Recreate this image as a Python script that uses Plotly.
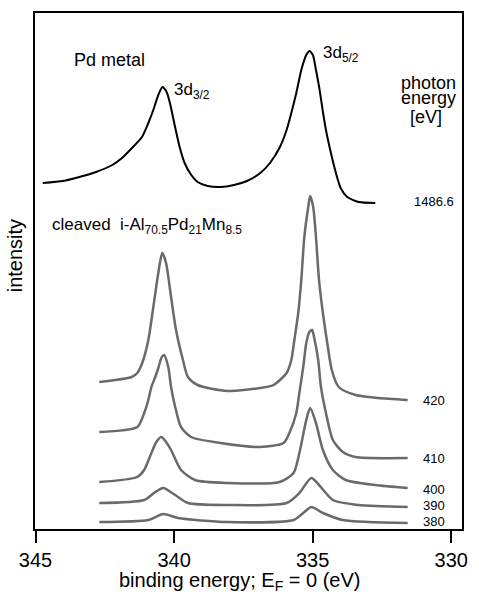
import plotly.graph_objects as go

# ---- data (binding energy in eV, intensity in arb. units) ----
pd_metal_E = [344.74, 344.01, 343.42, 342.82, 342.23, 341.88, 341.52, 341.16, 340.93, 340.75,
              340.57, 340.42, 340.27, 340.15, 339.98, 339.80, 339.62, 339.38, 339.15, 338.79,
              338.32, 337.84, 337.37, 336.89, 336.54, 336.18, 335.94, 335.77, 335.59, 335.41,
              335.23, 335.11, 334.99, 334.88, 334.76, 334.64, 334.52, 334.34, 334.16, 333.99,
              333.75, 333.34, 332.74]
pd_metal_I = [346, 348, 352, 357, 364, 371, 381, 392, 406, 419,
              434, 442, 437, 426, 404, 382, 366, 354, 347, 343,
              342, 344, 348, 356, 366, 382, 399, 416, 436, 459,
              474, 478, 474, 459, 441, 419, 399, 376, 356, 341,
              332, 327, 326]

s420_E = [342.70, 341.53, 341.33, 341.15, 340.93, 340.75, 340.57, 340.43, 340.29, 340.11,
          339.93, 339.68, 339.50, 339.15, 338.08, 336.90, 336.41, 335.94, 335.77, 335.66,
          335.52, 335.41, 335.30, 335.16, 335.09, 334.98, 334.88, 334.77, 334.63, 334.45,
          334.31, 334.06, 333.45, 332.63, 331.57]
s420_I = [147, 152, 156, 166, 189, 222, 256, 276, 266, 232,
          199, 169, 152, 144, 138, 141, 144, 156, 169, 189,
          216, 249, 292, 322, 333, 322, 292, 249, 216, 182,
          159, 142, 134, 131, 129]

s410_E = [342.70, 341.33, 341.08, 340.93, 340.82, 340.68, 340.57, 340.46, 340.36, 340.21,
          340.11, 339.96, 339.75, 339.39, 338.33, 336.90, 336.05, 335.84, 335.59, 335.48,
          335.34, 335.23, 335.12, 335.02, 334.95, 334.80, 334.70, 334.52, 334.27, 333.91,
          333.45, 331.57]
s410_I = [97, 102, 116, 129, 142, 152, 161, 171, 174, 162,
          142, 122, 102, 92, 86, 82, 86, 96, 116, 136,
          162, 186, 197, 199, 192, 169, 142, 116, 89, 77,
          72, 71]

s400_E = [342.70, 341.33, 341.08, 340.82, 340.64, 340.46, 340.29, 340.11, 339.75, 339.25,
          338.08, 336.19, 335.69, 335.48, 335.23, 335.09, 334.88, 334.63, 334.27, 333.81,
          332.75, 331.57]
s400_I = [47, 52, 59, 76, 87, 92, 87, 79, 59, 49,
          46, 47, 56, 76, 109, 121, 106, 79, 59, 49,
          44, 41]

s390_E = [342.70, 341.08, 340.68, 340.39, 339.96, 339.50, 338.08, 335.94, 335.48, 335.05,
          334.77, 334.27, 333.35, 331.57]
s390_I = [26, 29, 37, 41, 34, 26, 24, 26, 36, 51,
          44, 29, 24, 22]

s380_E = [342.70, 340.93, 340.39, 339.86, 338.08, 335.69, 335.34, 335.05, 334.63, 333.91,
          331.57]
s380_I = [7, 9, 15, 11, 7, 9, 16, 22, 16, 9,
          6]

photon_labels = ["1486.6", "420", "410", "400", "390", "380"]
x_ticks = [345, 340, 335, 330]

# ---- layout helpers (pixel geometry of the reference) ----
W, H = 479, 594
L, R, T, B = 35, 468, 13, 529
PW, PH = R - L, B - T


def px(x):
    return (x - L) / PW


def py(y):
    return (B - y) / PH


FONT = "Liberation Sans, Arial, Helvetica, sans-serif"
GREY = "#6a6a6a"

fig = go.Figure()
fig.add_trace(go.Scatter(x=pd_metal_E, y=pd_metal_I, mode="lines",
                         line=dict(color="black", width=2, shape="spline", smoothing=0.6),
                         hoverinfo="skip"))
for E, I in [(s420_E, s420_I), (s410_E, s410_I), (s400_E, s400_I),
             (s390_E, s390_I), (s380_E, s380_I)]:
    fig.add_trace(go.Scatter(x=E, y=I, mode="lines",
                             line=dict(color=GREY, width=2.5, shape="spline", smoothing=0.7),
                             hoverinfo="skip"))

ann = []


def add(text, x, y, size, xanchor="center", yanchor="middle", angle=0):
    ann.append(dict(text=text, x=px(x), y=py(y), xref="paper", yref="paper",
                    xanchor=xanchor, yanchor=yanchor, showarrow=False, textangle=angle,
                    font=dict(family=FONT, size=size, color="black")))


add("Pd metal", 111, 60, 18)
add("3d<sub>3/2</sub>", 174, 91, 17, xanchor="left")
add("3d<sub>5/2</sub>", 325, 54, 17, xanchor="left")
add("photon", 434, 83, 18)
add("energy", 434, 98, 18)
add("[eV]", 432, 117, 18)
add("cleaved  i-Al<sub>70.5</sub>Pd<sub>21</sub>Mn<sub>8.5</sub>", 50, 226, 17, xanchor="left")
for lab, yy in zip(photon_labels, [201, 400, 458, 489, 505, 521]):
    add(lab, 440, yy, 13)
add("binding energy; E<sub>F</sub> = 0 (eV)", 243, 581, 20)
add("intensity", 15, 256, 20, angle=-90)

fig.update_layout(
    width=W, height=H,
    margin=dict(l=L, r=W - R, t=T, b=H - B),
    paper_bgcolor="white", plot_bgcolor="white",
    showlegend=False,
    annotations=ann,
    font=dict(family=FONT, color="black"),
)
fig.update_xaxes(range=[345.02, 329.61], tickvals=x_ticks, ticktext=[str(v) for v in x_ticks],
                 ticks="outside", ticklen=12, tickwidth=1.5, tickcolor="black",
                 tickfont=dict(family=FONT, size=20, color="black"),
                 showline=True, linecolor="black", linewidth=1.5, mirror=True,
                 showgrid=False, zeroline=False)
fig.update_yaxes(range=[0, PH], showticklabels=False, ticks="",
                 showline=True, linecolor="black", linewidth=1.5, mirror=True,
                 showgrid=False, zeroline=False)

fig.write_html("out.html")
